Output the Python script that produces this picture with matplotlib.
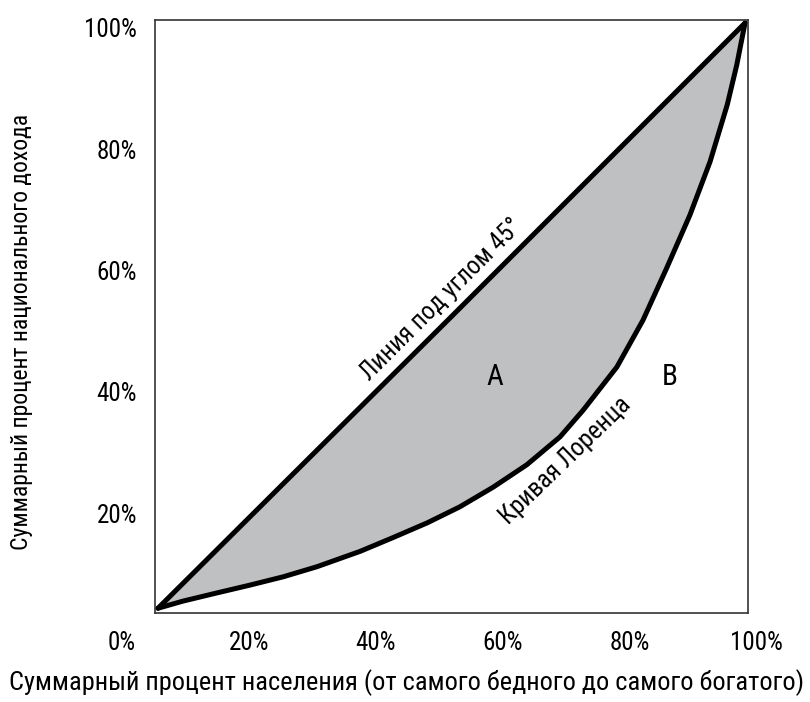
import matplotlib
matplotlib.use("Agg")
import matplotlib.pyplot as plt

plt.rcParams['font.family'] = ['Roboto Condensed', 'Liberation Sans Narrow', 'Roboto', 'DejaVu Sans']

# линия "под углом 45°"
diag_x = [0.005, 0.500, 0.995]
diag_y = [0.008, 0.500, 0.995]

# кривая Лоренца
lor_x = [0.005, 0.047, 0.105, 0.160, 0.216, 0.273, 0.346, 0.401, 0.459, 0.514, 0.570,
         0.627, 0.683, 0.722, 0.779, 0.823, 0.863, 0.902, 0.936, 0.965, 0.981, 0.995]
lor_y = [0.008, 0.020, 0.034, 0.047, 0.061, 0.078, 0.104, 0.127, 0.152, 0.179, 0.212,
         0.250, 0.297, 0.342, 0.415, 0.494, 0.582, 0.671, 0.761, 0.857, 0.924, 0.995]

x_ticks = [20, 40, 60, 80, 100]
y_ticks = [20, 40, 60, 80, 100]

fig = plt.figure(figsize=(8.1, 7.02), dpi=100)
ax = fig.add_axes([155 / 810, 89 / 702, 593 / 810, 593 / 702])
ax.set_xlim(0, 1)
ax.set_ylim(0, 1)
ax.set_xticks([])
ax.set_yticks([])
for s in ax.spines.values():
    s.set_color('#333333')
    s.set_linewidth(1.2)

# закрашенная область A
poly_x = diag_x + lor_x[::-1]
poly_y = diag_y + lor_y[::-1]
ax.fill(poly_x, poly_y, color='#bfc0c2', lw=0, zorder=1)
ax.plot(diag_x, diag_y, color='black', lw=3.6, solid_joinstyle='round', solid_capstyle='round', zorder=2)
ax.plot(lor_x, lor_y, color='black', lw=3.6, solid_joinstyle='round', solid_capstyle='round', zorder=2)

# подписи делений (сдвинуты относительно рамки, как в оригинале)
tick_fs = 18
for v in x_ticks:
    ax.text(-0.056 + v / 100 * 1.071, -0.05, f'{v}%', ha='center', va='center',
            fontsize=tick_fs, clip_on=False)
for v in y_ticks:
    ax.text(-0.03, -0.041 + v / 100 * 1.024, f'{v}%', ha='right', va='center',
            fontsize=tick_fs, clip_on=False)
ax.text(-0.056, -0.05, '0%', ha='center', va='center', fontsize=tick_fs, clip_on=False)

ax.text(0.498, 0.514, 'Линия под углом 45°', rotation=45, ha='center', va='bottom',
        fontsize=18, rotation_mode='anchor')
ax.text(0.678, 0.272, 'Кривая Лоренца', rotation=44, ha='center', va='top',
        fontsize=18, rotation_mode='anchor')
ax.text(0.573, 0.398, 'A', ha='center', va='center', fontsize=21)
ax.text(0.868, 0.398, 'B', ha='center', va='center', fontsize=21)

fig.text(407 / 810, 1 - 683 / 702, 'Суммарный процент населения (от самого бедного до самого богатого)',
         ha='center', va='center', fontsize=19)
fig.text(22 / 810, 1 - 332 / 702, 'Суммарный процент национального дохода',
         ha='center', va='center', rotation=90, fontsize=17)

fig.savefig('out.png', dpi=100)
